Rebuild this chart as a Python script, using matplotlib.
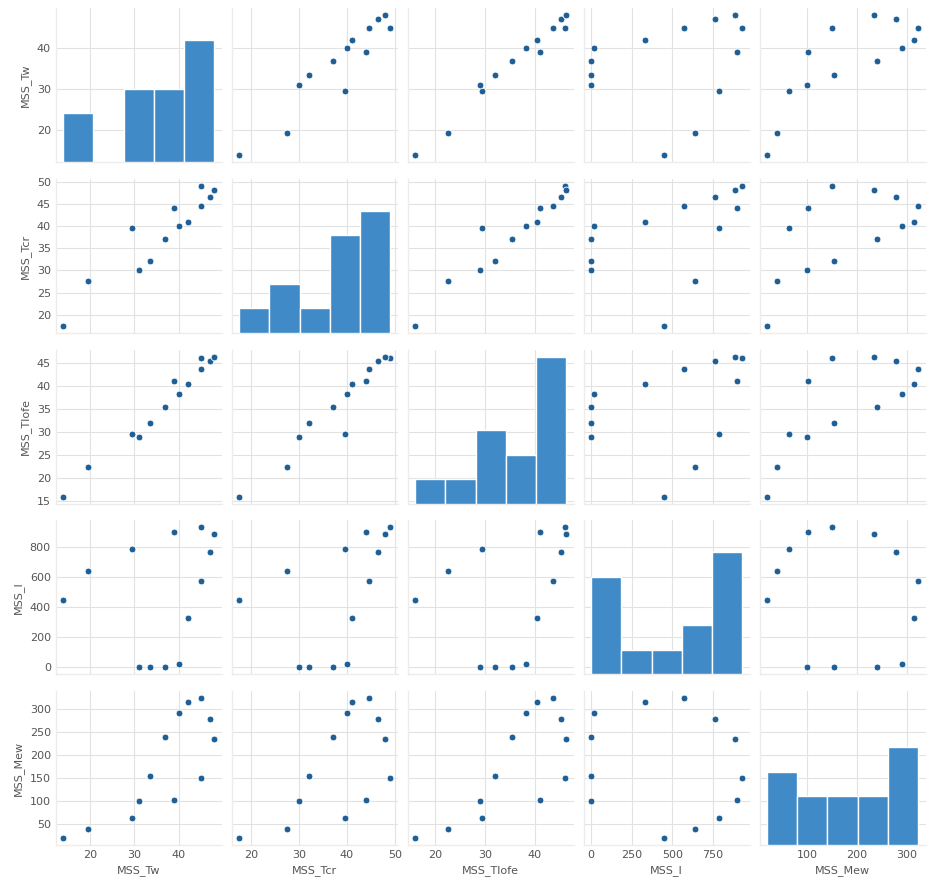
import matplotlib
matplotlib.use("Agg")
import matplotlib.pyplot as plt
from matplotlib.ticker import MultipleLocator
import pandas as pd
import seaborn as sns

# Measured series (13 samples)
mss_tw = [14, 19.5, 29.5, 31, 33.5, 37, 39, 40, 42, 45, 45, 47, 48]
mss_tcr = [17.5, 27.5, 39.5, 30, 32, 37, 44, 40, 41, 49, 44.5, 46.5, 48]
mss_tlofe = [16, 22.5, 29.5, 29, 32, 35.5, 41, 38.2, 40.5, 46, 43.7, 45.3, 46.3]
mss_i = [450, 640, 790, 0, 0, 0, 900, 20, 330, 930, 575, 765, 885]
mss_mew = [20, 40, 63, 100, 155, 240, 103, 290, 315, 150, 323, 278, 235]

columns = ["MSS_Tw", "MSS_Tcr", "MSS_Tlofe", "MSS_I", "MSS_Mew"]

# tick spacing per variable on the y (row) and x (column) axes
y_steps = [10, 5, 5, 200, 50]
x_steps = [10, 10, 10, 250, 100]

df = pd.DataFrame({
    "MSS_Tw": mss_tw,
    "MSS_Tcr": mss_tcr,
    "MSS_Tlofe": mss_tlofe,
    "MSS_I": mss_i,
    "MSS_Mew": mss_mew,
})[columns]

plt.style.use("seaborn-v0_8-whitegrid")
plt.rcParams.update({
    "font.family": ["DejaVu Sans"],
    "font.size": 8,
    "axes.labelsize": 8,
    "xtick.labelsize": 8,
    "ytick.labelsize": 8,
    "text.color": "#555555",
    "axes.labelcolor": "#555555",
    "xtick.color": "#555555",
    "ytick.color": "#555555",
    "grid.color": "#e2e2e2",
    "axes.edgecolor": "#ececec",
})

g = sns.pairplot(
    df,
    plot_kws=dict(s=24, color="#1f5f95", edgecolor="white", linewidth=0.6),
    diag_kws=dict(color="#3f8ac7", edgecolor="white", linewidth=1.0, alpha=1.0),
)

n = len(columns)
for i in range(n):
    for j in range(n):
        ax = g.axes[i, j]
        if j == 0 or i != j:
            ax.yaxis.set_major_locator(MultipleLocator(y_steps[i]))
        ax.xaxis.set_major_locator(MultipleLocator(x_steps[j]))

fig = g.figure
fig.set_size_inches(9.34, 8.84)
fig.subplots_adjust(left=0.0596, right=0.991, top=0.9906, bottom=0.0441,
                    wspace=0.06, hspace=0.11)

fig.savefig("out.png", dpi=100)
